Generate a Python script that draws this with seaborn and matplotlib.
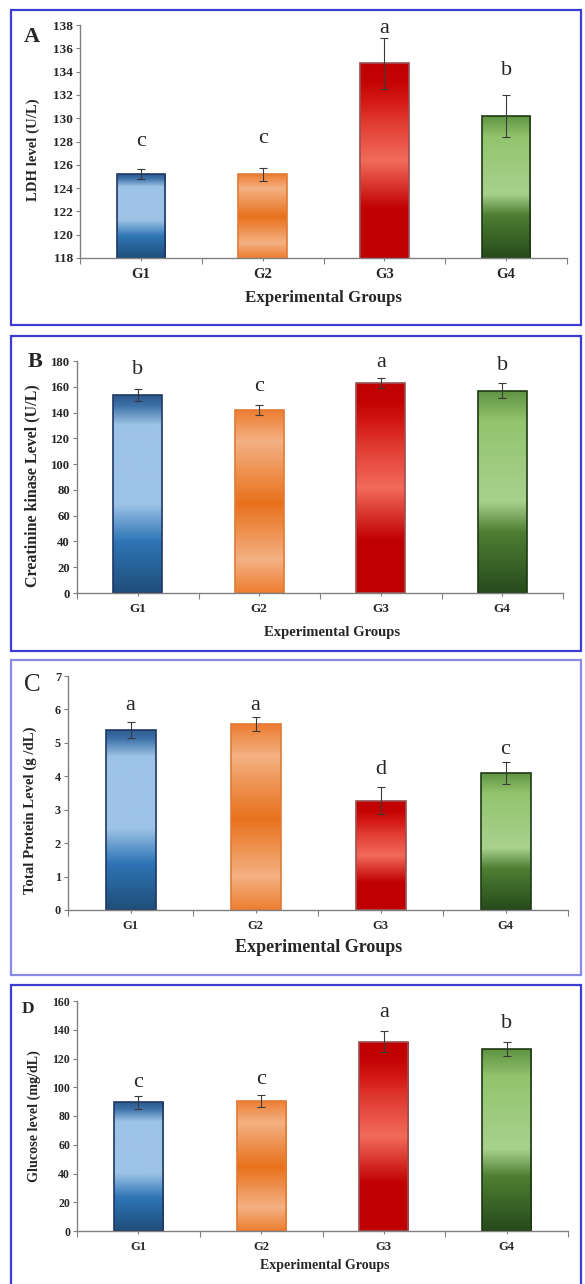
import numpy as np
import pandas as pd
import matplotlib.pyplot as plt
import seaborn as sns
from matplotlib.colors import LinearSegmentedColormap
from matplotlib.patches import Rectangle

# ==========================
# Data
# ==========================
groups = ["G1", "G2", "G3", "G4"]

ldh_mean = [125.2, 125.2, 134.7, 130.2]
ldh_err = [0.4, 0.55, 2.2, 1.8]
ldh_letters = ["c", "c", "a", "b"]
ldh_letter_y = [127.6, 127.9, 137.3, 133.7]

ck_mean = [153.4, 141.8, 163.0, 157.0]
ck_err = [4.8, 3.9, 3.7, 5.8]
ck_letters = ["b", "c", "a", "b"]
ck_letter_y = [170.0, 156.8, 175.4, 173.3]

tp_mean = [5.39, 5.56, 3.27, 4.11]
tp_err = [0.23, 0.22, 0.40, 0.33]
tp_letters = ["a", "a", "d", "c"]
tp_letter_y = [5.98, 5.98, 4.07, 4.67]

glu_mean = [89.4, 90.6, 131.7, 126.6]
glu_err = [4.6, 4.1, 7.3, 4.8]
glu_letters = ["c", "c", "a", "b"]
glu_letter_y = [100.3, 102.6, 148.6, 141.4]

# ==========================
# Styling
# ==========================
sns.set_style("white")
plt.rcParams["font.family"] = ["Liberation Serif", "DejaVu Serif"]

W, H = 585, 1284
SERIF = ["Liberation Serif", "DejaVu Serif"]

# excel style "reflected" gradients, bottom -> top
gradients = {
    "G1": [(0, "#1f4e79"), (0.26, "#2e75b6"), (0.45, "#9dc3e6"), (0.85, "#9dc3e6"),
           (0.95, "#3d70a8"), (1, "#2b5a8c")],
    "G2": [(0, "#ed7d31"), (0.18, "#f4b183"), (0.49, "#e8711c"), (0.83, "#f4b183"),
           (1, "#ed7d31")],
    "G3": [(0, "#c00000"), (0.25, "#c00000"), (0.5, "#f26b5b"), (0.7, "#e03a30"),
           (0.8, "#d41a16"), (0.9, "#c40404"), (1, "#c00000")],
    "G4": [(0, "#274a1c"), (0.3, "#4e7f32"), (0.45, "#a9d18e"), (0.85, "#92c46d"),
           (1, "#5f9242")],
}
edges = {"G1": "#1f3864", "G2": "#e07a35", "G3": "#9a5050", "G4": "#1e3a14"}
cmaps = {g: LinearSegmentedColormap.from_list(g, stops) for g, stops in gradients.items()}


def fx(x):
    return x / W


def fy(y):
    return 1 - y / H


fig = plt.figure(figsize=(W / 100, H / 100), dpi=100)


def panel(mean, err, letters, letter_y, ylim, step, ylabel, tag, box, axbox, st):
    # border box around the panel
    x0, y0, x1, y1 = box
    fig.add_artist(Rectangle((fx(x0), fy(y1)), (x1 - x0) / W, (y1 - y0) / H,
                             transform=fig.transFigure, fill=False,
                             ec=st["border"], lw=1.6))

    l, t, r, b = axbox
    ax = fig.add_axes([fx(l), fy(b), (r - l) / W, (b - t) / H])

    df = pd.DataFrame({"group": groups, "value": mean})
    sns.barplot(data=df, x="group", y="value", hue="group", palette=edges,
                legend=False, errorbar=None, width=0.4, ax=ax)

    for g, patch in zip(groups, ax.patches):
        bx, bw, top = patch.get_x(), patch.get_width(), patch.get_height()
        grad = np.linspace(0, 1, 256).reshape(-1, 1)
        im = ax.imshow(grad, extent=[bx, bx + bw, ylim[0], top], origin="lower",
                       aspect="auto", cmap=cmaps[g], interpolation="bilinear", zorder=1)
        im.set_clip_path(patch)
        patch.set_facecolor("none")
        patch.set_edgecolor(edges[g])
        patch.set_linewidth(1.2)
        patch.set_zorder(2)

    ax.errorbar(range(4), mean, yerr=err, fmt="none", ecolor="#3a3a3a",
                elinewidth=0.8, capsize=3, capthick=0.8, zorder=3)

    for i, (lt, ly) in enumerate(zip(letters, letter_y)):
        ax.text(i, ly, lt, ha="center", va="baseline", fontsize=st["letter"],
                family=SERIF, clip_on=False)

    ax.set_xlim(-0.5, 3.5)
    ax.set_ylim(*ylim)
    ax.set_yticks(np.arange(ylim[0], ylim[1] + step / 2, step))
    ax.set_xticks(range(4))
    ax.set_xticks(np.arange(-0.5, 4, 1), minor=True)
    ax.set_xticklabels(groups, fontsize=st["xt"], fontweight="bold")
    for lab in ax.get_yticklabels():
        lab.set_fontsize(st["yt"])
        lab.set_fontweight("bold")
    ax.tick_params(axis="y", direction="out", length=3, width=0.8, color="#808080",
                   pad=2, left=True)
    ax.tick_params(axis="x", which="major", direction="out", length=2, width=0.8,
                   color="#808080", pad=st["xpad"], bottom=True)
    ax.tick_params(axis="x", which="minor", direction="out", length=4, width=0.8,
                   color="#808080", bottom=True)
    for s in ["top", "right"]:
        ax.spines[s].set_visible(False)
    for s in ["left", "bottom"]:
        ax.spines[s].set_color("#808080")
        ax.spines[s].set_linewidth(1.0)
    ax.set_xlabel("")
    ax.set_ylabel("")
    ax.patch.set_alpha(0)

    fig.text(fx(st["ylab"][0]), fy(st["ylab"][1]), ylabel, rotation=90, ha="center",
             va="center", fontsize=st["ylsize"], fontweight="bold")
    fig.text(fx(st["xlab"][0]), fy(st["xlab"][1]), "Experimental Groups", ha="center",
             va="center", fontsize=st["xlsize"], fontweight="bold")
    fig.text(fx(st["tag"][0]), fy(st["tag"][1]), tag, ha="center", va="center",
             fontsize=st["tagsize"], fontweight=st["tagweight"])
    return ax


panel(ldh_mean, ldh_err, ldh_letters, ldh_letter_y, (118, 138), 2, "LDH level (U/L)", "A",
      (11, 10, 581, 325), (80, 25, 567, 258),
      dict(border="#3c3cd2", letter=16, xt=10.5, yt=9.5, xpad=5, ylab=(33, 150),
           ylsize=10.6, xlab=(323, 298), xlsize=12.2, tag=(32, 37), tagsize=16,
           tagweight="bold"))

panel(ck_mean, ck_err, ck_letters, ck_letter_y, (0, 180), 20,
      "Creatinine kinase Level (U/L)", "B",
      (11, 336, 581, 651), (77, 361, 563, 593),
      dict(border="#3c3cd2", letter=16, xt=9.5, yt=9.2, xpad=5, ylab=(32, 486),
           ylsize=11.5, xlab=(332, 632), xlsize=10.5, tag=(35, 362), tagsize=16,
           tagweight="bold"))

panel(tp_mean, tp_err, tp_letters, tp_letter_y, (0, 7), 1,
      "Total Protein Level (g /dL)", "C",
      (11, 660, 581, 975), (68, 676, 568, 910),
      dict(border="#8a8ae6", letter=16, xt=9, yt=8.8, xpad=5, ylab=(30, 810),
           ylsize=10.6, xlab=(319, 947), xlsize=13, tag=(32, 685), tagsize=18,
           tagweight="normal"))

panel(glu_mean, glu_err, glu_letters, glu_letter_y, (0, 160), 20,
      "Glucose level (mg/dL)", "D",
      (11, 985, 581, 1300), (77, 1001, 568, 1231),
      dict(border="#3c3cd2", letter=16, xt=9, yt=8.5, xpad=5, ylab=(34, 1116),
           ylsize=10.2, xlab=(325, 1266), xlsize=10, tag=(28, 1009), tagsize=12.5,
           tagweight="bold"))

plt.savefig("out.png", dpi=100)
plt.close()
